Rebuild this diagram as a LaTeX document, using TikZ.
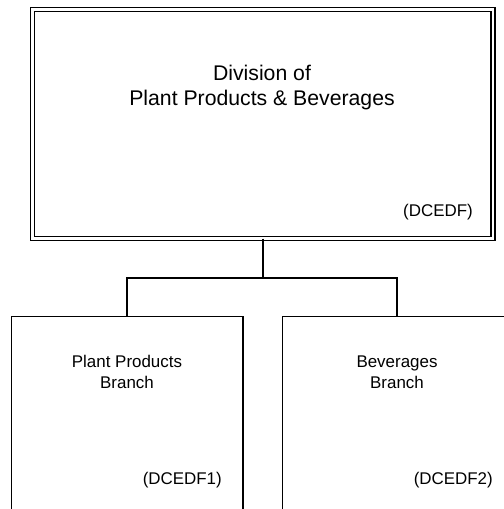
\documentclass[tikz,border=0pt]{standalone}
\usepackage{fontspec}
\setmainfont{Liberation Sans}
\begin{document}
\begin{tikzpicture}[x=1bp,y=-1bp,
  box/.style={draw, line width=1.6bp, inner sep=0pt, outer sep=0pt, rectangle},
  divbox/.style={box, line width=1.8bp, double, double distance=2.2bp},
  title/.style={font=\fontsize{21.3}{26}\selectfont, align=center, inner sep=0pt},
  lbl/.style={font=\fontsize{17}{20.8}\selectfont, align=center, inner sep=0pt},
  code/.style={font=\fontsize{17}{20}\selectfont, inner sep=0pt, anchor=base east},
  conn/.style={line width=1.6bp}]
\useasboundingbox (0,0) rectangle (504,509);
\clip (0,0) rectangle (504,509);
% boxes
\node[divbox, minimum width=460.5bp, minimum height=229bp] (div) at (262.75,124) {};
\node[box, minimum width=231.5bp, minimum height=193.5bp] (b1) at (127.25,413.25) {};
\node[box, minimum width=229.5bp, minimum height=193.5bp] (b2) at (397.25,413.25) {};
% texts
\node[title, anchor=base] (divt) at (262,106) {Division of\\Plant Products \& Beverages};
\node[code] (divc) at (473,216.5) {(DCEDF)};
\node[lbl, anchor=base] (b1t) at (127,388.3) {Plant Products\\Branch};
\node[code] (b1c) at (222,484) {(DCEDF1)};
\node[lbl, anchor=base] (b2t) at (397,388.3) {Beverages\\Branch};
\node[code] (b2c) at (493,484) {(DCEDF2)};
% connectors
\coordinate (bus) at (262.75,278);
\draw[conn] (div.south) -- (bus);
\draw[conn] (b1.north) |- (bus) -| (b2.north);
\end{tikzpicture}
\end{document}
